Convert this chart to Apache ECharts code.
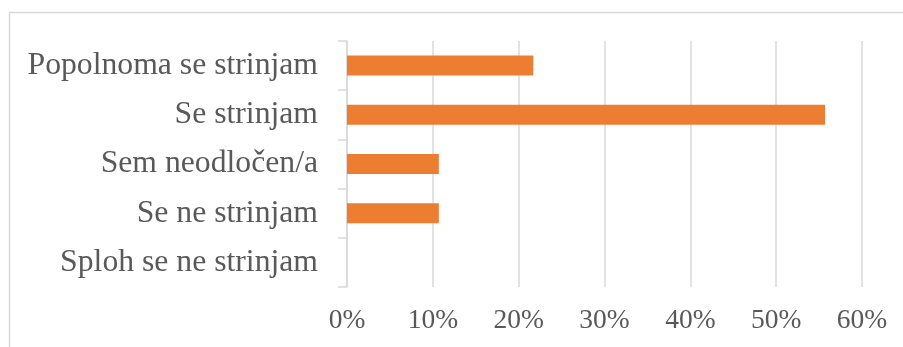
<!DOCTYPE html>
<html>
<head>
<meta charset="utf-8">
<script src="https://cdn.jsdelivr.net/npm/echarts@6/dist/echarts.min.js"></script>
<style>
html,body{margin:0;padding:0;background:#fff;}
#chart{width:903px;height:347px;}
</style>
</head>
<body>
<div id="chart"></div>
<script>
const categories = ['Popolnoma se strinjam', 'Se strinjam', 'Sem neodločen/a', 'Se ne strinjam', 'Sploh se ne strinjam'];
const values = [21.7, 55.7, 10.7, 10.7, 0];
const xTicks = { min: 0, max: 60, interval: 10 };

const chart = echarts.init(document.getElementById('chart'), null, { renderer: 'canvas' });
chart.setOption({
  animation: false,
  backgroundColor: '#ffffff',
  graphic: [{
    type: 'rect',
    shape: { x: 9.5, y: 12.5, width: 900, height: 340 },
    style: { fill: 'none', stroke: '#d9d9d9', lineWidth: 1.5 },
    silent: true
  }],
  grid: { left: 347, right: 41, top: 41, bottom: 60, containLabel: false },
  xAxis: {
    type: 'value',
    min: xTicks.min, max: xTicks.max, interval: xTicks.interval,
    axisLine: { show: false },
    axisTick: { show: false },
    splitLine: { show: true, lineStyle: { color: '#d9d9d9', width: 1.5 } },
    axisLabel: {
      formatter: '{value}%',
      color: '#595959',
      fontFamily: 'Liberation Serif',
      fontSize: 27.5,
      margin: 20
    }
  },
  yAxis: {
    type: 'category',
    data: categories,
    inverse: true,
    axisLine: { show: true, lineStyle: { color: '#d9d9d9', width: 1.5 } },
    axisTick: { show: true, length: 9, lineStyle: { color: '#d9d9d9', width: 1.5 } },
    axisLabel: {
      color: '#595959',
      fontFamily: 'Liberation Serif',
      fontSize: 31.7,
      margin: 29
    }
  },
  series: [{
    type: 'bar',
    data: values,
    barWidth: 20,
    itemStyle: { color: '#ED7D31' }
  }]
});
</script>
</body>
</html>
